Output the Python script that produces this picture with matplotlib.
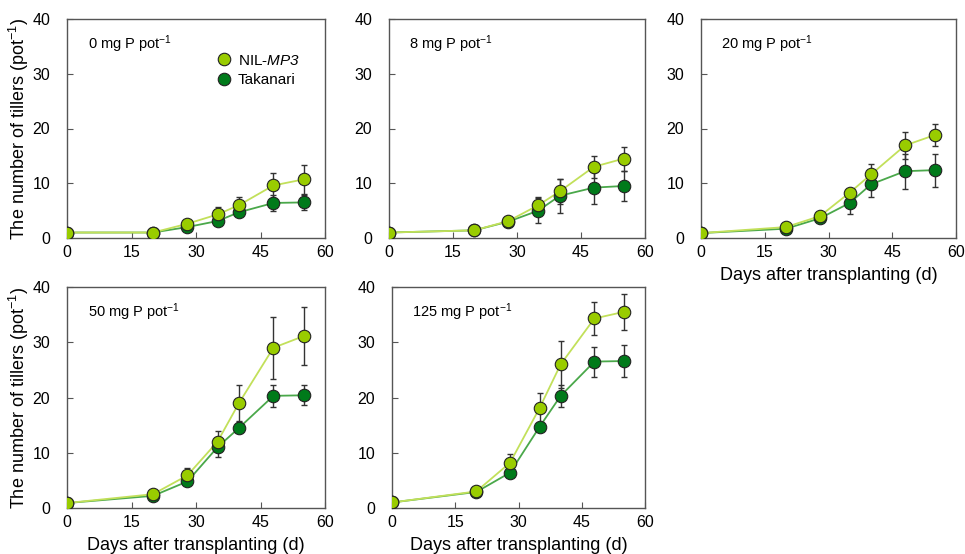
import matplotlib
matplotlib.use("Agg")
import matplotlib.pyplot as plt
import numpy as np

plt.rcParams['font.family'] = ['Liberation Sans', 'DejaVu Sans']
plt.rcParams['mathtext.fontset'] = 'custom'
plt.rcParams['mathtext.rm'] = 'Liberation Sans'
plt.rcParams['mathtext.it'] = 'Liberation Sans:italic'
plt.rcParams['mathtext.sf'] = 'Liberation Sans:italic'  # digits stay italic with \mathsf
plt.rcParams['mathtext.default'] = 'regular'

days = [0, 20, 28, 35, 40, 48, 55]
treatments = ['0', '8', '20', '50', '125']

# mean tillers per pot and error bars (SD)
nil_mean = {
    '0':   [1.0, 1.0, 2.6, 4.3, 6.0, 9.6, 10.7],
    '8':   [1.0, 1.4, 3.1, 6.0, 8.5, 13.0, 14.5],
    '20':  [0.9, 2.0, 4.0, 8.3, 11.6, 16.9, 18.8],
    '50':  [0.9, 2.5, 5.9, 12.0, 19.0, 29.0, 31.1],
    '125': [1.0, 3.0, 8.2, 18.1, 26.0, 34.3, 35.5],
}
nil_err = {
    '0':   [0.0, 0.1, 0.4, 1.3, 1.5, 2.3, 2.7],
    '8':   [0.0, 0.2, 0.5, 1.4, 2.2, 2.0, 2.2],
    '20':  [0.0, 0.3, 0.5, 0.6, 2.0, 2.5, 2.0],
    '50':  [0.0, 0.7, 1.3, 1.9, 3.2, 5.6, 5.3],
    '125': [0.0, 0.3, 1.5, 2.8, 4.2, 2.9, 3.2],
}
tak_mean = {
    '0':   [1.0, 1.0, 2.0, 3.1, 4.7, 6.4, 6.5],
    '8':   [1.0, 1.4, 3.0, 5.0, 7.7, 9.2, 9.5],
    '20':  [0.9, 1.7, 3.6, 6.4, 9.8, 12.2, 12.4],
    '50':  [0.9, 2.2, 4.8, 11.0, 14.5, 20.3, 20.4],
    '125': [1.0, 2.9, 6.4, 14.7, 20.3, 26.5, 26.6],
}
tak_err = {
    '0':   [0.0, 0.1, 0.3, 0.5, 0.6, 1.4, 1.4],
    '8':   [0.0, 0.2, 0.7, 2.3, 3.1, 2.9, 2.7],
    '20':  [0.0, 0.3, 0.5, 2.0, 2.4, 3.2, 3.0],
    '50':  [0.0, 0.5, 0.6, 1.8, 1.0, 2.0, 1.8],
    '125': [0.0, 0.3, 0.5, 0.8, 2.0, 2.7, 2.9],
}

nil_face = '#99cc00'
nil_line = '#c2e05a'
tak_face = '#007a1a'
tak_line = '#4aa84a'

fig = plt.figure(figsize=(9.65, 5.54), dpi=100)
W, H = 965.0, 554.0
# axes boxes in pixels: left, top, right, bottom
boxes = [
    (67, 19, 325, 238),
    (389, 19, 645, 238),
    (701, 19, 956, 238),
    (67, 287, 325, 508),
    (392, 287, 645, 508),
]

for i, t in enumerate(treatments):
    l, tp, r, b = boxes[i]
    ax = fig.add_axes([l / W, 1 - b / H, (r - l) / W, (b - tp) / H])
    ax.errorbar(days, tak_mean[t], yerr=tak_err[t], fmt='none', ecolor='#333333',
                elinewidth=1.0, capsize=2.5, capthick=1.0, zorder=2)
    ax.errorbar(days, nil_mean[t], yerr=nil_err[t], fmt='none', ecolor='#333333',
                elinewidth=1.0, capsize=2.5, capthick=1.0, zorder=2)
    ax.plot(days, tak_mean[t], '-', color=tak_line, lw=1.3, zorder=3)
    ax.plot(days, nil_mean[t], '-', color=nil_line, lw=1.3, zorder=3)
    ax.plot(days, tak_mean[t], 'o', ms=9, mfc=tak_face, mec='#222222', mew=0.8,
            zorder=4, label='Takanari')
    ax.plot(days, nil_mean[t], 'o', ms=9, mfc=nil_face, mec='#222222', mew=0.8,
            zorder=5, label='NIL-MP3')
    ax.set_xlim(0, 60)
    ax.set_ylim(0, 40)
    ax.set_xticks([0, 15, 30, 45, 60])
    ax.set_yticks([0, 10, 20, 30, 40])
    ax.tick_params(direction='in', length=4, width=0.8, color='#555555',
                   labelsize=11.5)
    ax.tick_params(axis='x', pad=5)
    ax.tick_params(axis='y', pad=12)
    for s in ax.spines.values():
        s.set_color('#555555')
        s.set_linewidth(1.0)
    ax.text(0.08, 0.885, t + ' mg P pot$^{-1}$', transform=ax.transAxes,
            fontsize=10.5, va='center', ha='left')
    if i in (0, 3):
        ax.set_ylabel('The number of tillers (pot$^{-1}$)', fontsize=13)
        ax.yaxis.set_label_coords(-0.14, 0.5)
    if i in (2, 3, 4):
        ax.set_xlabel('Days after transplanting (d)', fontsize=13, labelpad=5)
    if i == 0:
        h, lab = ax.get_legend_handles_labels()
        ax.legend([h[1], h[0]], ['NIL-$\\mathsf{MP3}$', 'Takanari'], loc='upper left',
                  bbox_to_anchor=(0.55, 0.87), frameon=False, fontsize=11,
                  handletextpad=0.3, borderaxespad=0, labelspacing=0.35,
                  handlelength=1.2)

fig.savefig('out.png', dpi=100)
